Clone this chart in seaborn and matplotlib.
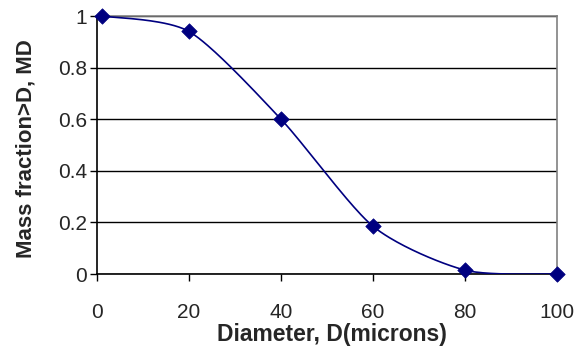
import numpy as np
import pandas as pd
import matplotlib
matplotlib.use("Agg")
import matplotlib.pyplot as plt
import seaborn as sns

# Cumulative mass fraction larger than a given particle diameter
diameter = [1, 20, 40, 60, 80, 100]
mass_fraction = [1.0, 0.94, 0.60, 0.185, 0.015, 0.0]
x_ticks = [0, 20, 40, 60, 80, 100]
y_ticks = [0, 0.2, 0.4, 0.6, 0.8, 1]

sns.set_theme(style="white")
plt.rcParams["font.family"] = ["Liberation Sans", "DejaVu Sans"]


def smooth_curve(xs, ys, n=40, k=1 / 8.0):
    """Cubic Bezier smoothing through the points (cardinal spline)."""
    p = np.column_stack([xs, ys]).astype(float)
    ext = np.vstack([p[0], p, p[-1]])
    out = []
    t = np.linspace(0, 1, n)[:, None]
    for i in range(len(p) - 1):
        p0, p1, p2, p3 = ext[i], ext[i + 1], ext[i + 2], ext[i + 3]
        c1 = p1 + (p2 - p0) * k
        c2 = p2 - (p3 - p1) * k
        seg = ((1 - t) ** 3) * p1 + 3 * ((1 - t) ** 2) * t * c1 \
            + 3 * (1 - t) * t ** 2 * c2 + t ** 3 * p2
        out.append(seg if i == 0 else seg[1:])
    c = np.vstack(out)
    return c[:, 0], c[:, 1]


cx, cy = smooth_curve(diameter, mass_fraction)
curve = pd.DataFrame({"D": cx, "MD": cy})
points = pd.DataFrame({"D": diameter, "MD": mass_fraction})

fig = plt.figure(figsize=(5.84, 3.5), dpi=100)
ax = fig.add_axes([97 / 584, 1 - 274 / 350, (557 - 97) / 584, (274 - 16) / 350])

navy = "#000080"
ax.yaxis.grid(True, color="black", linewidth=1.0)
ax.set_axisbelow(True)

sns.lineplot(data=curve, x="D", y="MD", sort=False, color=navy,
             linewidth=1.2, ax=ax, zorder=3)
sns.scatterplot(data=points, x="D", y="MD", marker="D", s=62, color=navy,
                edgecolor=navy, linewidth=0.5, ax=ax, zorder=4, clip_on=False)

ax.set_xlim(0, 100)
ax.set_ylim(0, 1)
ax.set_xticks(x_ticks)
ax.set_yticks(y_ticks)
ax.set_xticklabels([str(v) for v in x_ticks])
ax.set_yticklabels(["0", "0.2", "0.4", "0.6", "0.8", "1"])

for side in ["left", "bottom"]:
    ax.spines[side].set_color("black")
    ax.spines[side].set_linewidth(1.2)
for side in ["top", "right"]:
    ax.spines[side].set_color("#808080")
    ax.spines[side].set_linewidth(1.2)

ax.tick_params(axis="both", direction="out", length=5, width=1,
               color="black", labelsize=15, left=True, bottom=True)
ax.tick_params(axis="x", pad=16)
ax.tick_params(axis="y", pad=2)

ax.set_xlabel("Diameter, D(microns)", fontsize=16.5, fontweight="bold")
ax.set_ylabel("Mass fraction>D, MD", fontsize=16, fontweight="bold")
ax.xaxis.set_label_coords(0.51, -0.19)
ax.yaxis.set_label_coords(-0.132, 0.487)

fig.savefig("out.png", dpi=100, facecolor="white")
